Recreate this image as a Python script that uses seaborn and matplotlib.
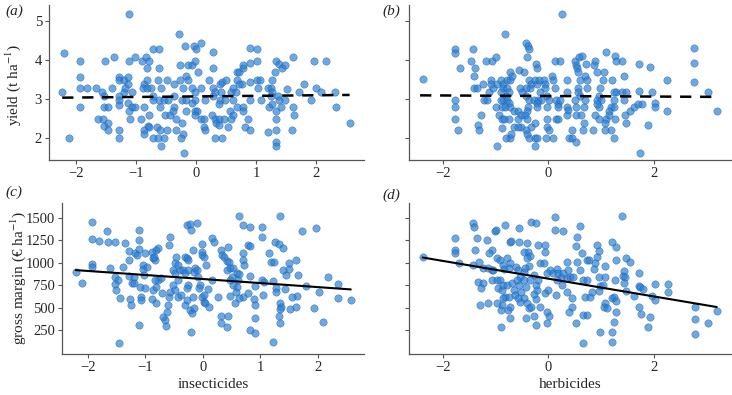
import numpy as np
import pandas as pd
import matplotlib
matplotlib.use('Agg')
import matplotlib.pyplot as plt
import seaborn as sns

# (a) yield vs insecticides
ins_a = [-1.12, -2.20, -1.94, -1.94, -1.94, -2.23, -1.82, -1.67, -1.94, -2.12,
         -1.52, -1.37, -1.56, -1.54, -1.40, -1.54, -1.47, -1.63, -1.55, -1.54,
         -1.47, -1.47, -1.28, -1.28, -1.28, -1.28, -1.29, -1.29, -1.28, -1.20,
         -1.13, -1.14, -1.20, -1.18, -1.12, -1.01, -1.07, -1.13, -1.06, -1.01,
         -1.12, -1.10, -0.91, -0.90, -0.84, -0.78, -0.81, -0.86, -0.82, -0.88,
         -0.81, -0.75, -0.72, -0.71, -0.86, -0.78, -0.72, -0.61, -0.61, -0.64,
         -0.59, -0.61, -0.54, -0.46, -0.60, -0.52, -0.43, -0.80, -0.86, -0.86,
         -0.78, -0.72, -0.65, -0.60, -0.64, -0.53, -0.59, -0.49, -0.36, -0.37,
         -0.36, -0.39, -0.34, -0.49, -0.33, -0.24, -0.21, -0.25, -0.20, -0.28,
         -0.18, -0.03, 0.08, 0.00, -0.26, -0.14, -0.07, -0.02, 0.03, -0.16,
         -0.13, -0.26, -0.21, -0.07, -0.02, 0.08, -0.23, -0.16, -0.02, 0.15,
         -0.07, -0.16, -0.02, 0.02, -0.02, 0.08, 0.13, 0.14, 0.15, 0.29,
         0.28, 0.22, 0.26, 0.29, 0.29, 0.31, 0.32, 0.39, 0.47, 0.33,
         0.39, 0.31, 0.43, 0.40, 0.43, 0.50, 0.41, 0.40, 0.39, 0.48,
         0.54, 0.57, 0.61, 0.59, 0.61, 0.59, 0.67, 0.62, 0.68, 0.72,
         0.69, 0.78, 0.79, 0.77, 0.72, 0.68, 0.79, 0.79, 0.90, 1.02,
         0.90, 1.02, 0.90, 0.87, 0.81, 0.90, 0.90, 1.02, 1.07, 1.04,
         1.08, 1.20, 1.25, 1.26, 1.27, 1.21, 1.26, 1.25, 1.20, 1.33,
         1.33, 1.34, 1.34, 1.33, 1.32, 1.34, 1.39, 1.44, 1.49, 1.36,
         1.38, 1.41, 1.49, 1.52, 1.61, 1.62, 1.64, 1.60, 1.71, 1.80,
         1.92, 1.97, 2.00, 2.08, 2.16, 2.32, 2.33, 2.56]
yield_a = [5.18, 4.19, 3.99, 3.58, 3.29, 3.19, 3.29, 3.29, 2.79, 2.00,
           3.99, 4.08, 3.19, 3.09, 3.29, 2.79, 2.79, 2.50, 2.50, 2.31,
           2.39, 2.21, 2.21, 2.00, 3.58, 3.49, 3.09, 2.99, 2.84, 3.49,
           3.58, 3.40, 3.19, 3.29, 3.99, 4.08, 3.19, 2.90, 2.80, 2.79,
           2.71, 2.50, 2.50, 3.99, 4.08, 3.99, 3.79, 3.40, 3.49, 3.29,
           3.29, 3.29, 2.99, 3.09, 2.79, 2.60, 4.28, 4.28, 3.79, 3.49,
           3.29, 2.99, 2.99, 2.99, 2.79, 2.60, 2.60, 2.31, 2.21, 2.10,
           2.29, 2.00, 2.29, 2.21, 2.00, 2.00, 1.80, 3.49, 3.40, 3.09,
           2.79, 2.71, 2.50, 2.21, 2.21, 2.39, 2.12, 2.00, 1.61, 4.68,
           4.38, 4.38, 4.44, 4.28, 3.89, 3.89, 3.89, 3.99, 3.69, 3.59,
           3.49, 3.49, 3.29, 3.29, 3.19, 3.29, 2.99, 2.99, 2.99, 2.99,
           2.90, 2.70, 2.70, 2.70, 2.60, 2.50, 2.50, 2.29, 2.21, 4.21,
           3.80, 3.49, 2.59, 3.09, 3.29, 3.19, 2.50, 2.50, 2.50, 2.38,
           2.33, 2.00, 2.00, 3.38, 3.44, 3.49, 3.19, 2.99, 2.89, 2.99,
           2.29, 2.70, 2.60, 2.50, 3.29, 3.19, 3.19, 2.99, 3.69, 3.69,
           3.49, 3.79, 3.89, 3.40, 3.38, 2.80, 2.80, 2.70, 4.32, 4.28,
           3.93, 3.99, 3.44, 2.50, 2.29, 2.21, 2.99, 3.49, 3.49, 3.29,
           2.99, 3.29, 3.29, 3.49, 3.19, 2.80, 2.89, 3.08, 2.16, 1.91,
           1.80, 2.22, 2.50, 2.70, 3.69, 3.99, 3.91, 3.79, 3.89, 3.09,
           2.99, 2.80, 2.99, 3.26, 4.08, 2.80, 2.59, 2.21, 3.19, 3.38,
           2.99, 3.99, 3.30, 3.19, 3.99, 3.19, 2.80, 2.40]

# (b) yield vs herbicides
herb_b = [-2.37, 0.26, -0.83, -1.77, -1.77, -1.43, -1.67, -1.46, -1.39, -1.40,
          -1.18, -1.07, -1.00, -1.77, -1.77, -1.77, -1.72, -1.40, -1.36, -1.24,
          -1.21, -1.17, -1.13, -1.09, -1.04, -1.09, -0.98, -0.90, -0.86, -0.79,
          -0.73, -0.69, -0.73, -0.85, -0.78, -0.90, -0.80, -0.74, -0.85, -0.78,
          -0.74, -0.90, -0.99, -0.88, -0.82, -0.73, -0.93, -0.88, -0.74, -0.84,
          -1.28, -1.34, -1.31, -0.98, -0.88, -0.73, -0.80, -0.71, -0.65, -0.58,
          -0.52, -0.58, -0.52, -0.65, -0.57, -0.55, -0.46, -0.42, -0.38, -0.36,
          -0.40, -0.36, -0.32, -0.25, -0.22, -0.23, -0.22, -0.35, -0.42, -0.54,
          -0.49, -0.42, -0.36, -0.27, -0.19, -0.13, -0.22, -0.38, -0.41, -0.45,
          -0.40, -0.21, -0.25, -0.32, -0.42, -0.36, -0.26, -0.21, -0.25, -0.41,
          -0.17, -0.09, -0.06, -0.15, -0.06, -0.02, 0.02, -0.03, -0.03, -0.02,
          0.02, -0.04, 0.09, 0.07, 0.08, 0.13, 0.23, 0.13, 0.14, 0.19,
          0.22, 0.18, 0.15, 0.19, 0.35, 0.36, 0.35, 0.38, 0.36, 0.40,
          0.44, 0.44, 0.52, 0.51, 0.52, 0.58, 0.63, 0.54, 0.57, 0.59,
          0.57, 0.56, 0.59, 0.50, 0.52, 0.52, 0.61, 0.68, 0.69, 0.68,
          0.65, 0.70, 0.71, 0.73, 0.74, 0.88, 0.86, 1.10, 1.26, 1.28,
          1.39, 0.93, 1.06, 1.04, 1.20, 1.44, 0.98, 1.28, 1.40, 1.47,
          1.25, 0.95, 0.92, 1.00, 1.25, 1.44, 0.95, 0.92, 1.19, 1.14,
          1.25, 0.88, 0.96, 1.10, 1.14, 1.07, 1.26, 0.85, 1.07, 1.19,
          1.25, 1.55, 1.63, 1.70, 1.77, 1.72, 1.96, 2.02, 2.02, 1.88,
          1.45, 1.47, 1.93, 1.72, 2.25, 2.25, 1.74, 2.75, 2.76, 2.76,
          3.03, 3.19]
yield_b = [3.51, 5.18, 4.68, 4.30, 4.19, 4.28, 3.79, 3.99, 3.79, 3.59,
           3.99, 3.99, 4.08, 2.99, 2.79, 2.50, 2.21, 3.29, 3.29, 3.40,
           2.99, 2.99, 3.19, 3.49, 3.29, 3.40, 3.40, 3.49, 3.40, 3.49,
           3.49, 3.59, 3.69, 3.29, 3.29, 3.19, 3.09, 3.19, 2.99, 2.99,
           2.90, 2.99, 2.79, 2.79, 2.79, 2.79, 2.59, 2.50, 2.50, 2.50,
           2.59, 2.34, 2.21, 1.80, 2.25, 2.00, 2.00, 2.12, 2.69, 2.70,
           2.59, 2.50, 2.29, 2.29, 2.29, 3.74, 3.69, 4.44, 4.38, 4.30,
           4.08, 3.49, 3.40, 3.49, 3.40, 3.91, 3.79, 3.29, 3.29, 3.29,
           3.19, 3.09, 2.99, 2.99, 2.99, 2.99, 2.90, 2.79, 2.70, 2.60,
           2.50, 2.79, 2.39, 2.29, 2.21, 2.00, 2.00, 2.00, 1.80, 2.12,
           3.49, 3.49, 3.40, 3.19, 3.29, 3.09, 2.99, 2.79, 2.50, 2.29,
           2.21, 2.00, 2.00, 3.59, 3.49, 3.99, 3.99, 3.29, 2.99, 2.89,
           2.99, 2.79, 2.50, 2.50, 3.49, 3.19, 2.79, 2.72, 2.59, 2.00,
           2.00, 2.21, 1.91, 3.99, 3.89, 4.09, 4.11, 3.79, 3.69, 3.49,
           3.29, 3.19, 3.09, 2.99, 2.79, 2.59, 2.59, 2.79, 2.99, 2.39,
           2.21, 3.59, 3.90, 3.49, 3.29, 3.99, 3.89, 4.21, 4.10, 3.99,
           3.99, 3.69, 3.69, 3.49, 3.49, 3.59, 3.29, 3.19, 3.19, 3.19,
           3.19, 3.09, 2.99, 2.99, 2.99, 2.99, 2.79, 2.89, 2.79, 2.70,
           2.79, 2.60, 2.50, 2.50, 2.60, 2.39, 2.50, 2.21, 2.21, 2.21,
           2.00, 2.70, 2.80, 2.89, 2.89, 3.20, 3.19, 2.91, 2.79, 2.35,
           2.60, 2.39, 3.83, 3.90, 3.49, 2.70, 1.61, 4.32, 3.93, 3.45,
           3.19, 2.70]

# (c) gross margin vs insecticides
ins_c = [-1.92, -1.92, -1.81, -1.66, -1.65, -1.52, -1.36, -1.11, -1.11, -1.28,
         -1.18, -1.11, -1.15, -1.01, -1.28, -1.39, -1.61, -1.92, -1.92, -2.21,
         -2.10, -1.53, -1.47, -1.52, -1.51, -1.44, -1.28, -1.19, -1.24, -1.19,
         -1.27, -1.25, -1.10, -1.01, -1.08, -1.07, -1.11, -1.46, -1.04, -1.04,
         -0.98, -1.02, -0.89, -0.86, -0.83, -0.81, -0.85, -0.78, -0.89, -0.81,
         -0.86, -0.81, -0.78, -0.73, -0.83, -0.71, -0.69, -0.66, -0.63, -0.64,
         -0.60, -0.59, -0.57, -0.57, -0.59, -0.52, -0.49, -0.49, -0.52, -0.46,
         -0.43, -0.40, -0.43, -0.49, -0.43, -0.38, -0.32, -0.28, -0.26, -0.34,
         -0.31, -0.26, -0.31, -0.27, -0.26, -0.28, -0.23, -0.19, -0.17, -0.20,
         -0.15, -0.28, -0.23, -0.11, -0.20, -0.17, -0.14, -0.15, -0.11, -0.08,
         -0.05, -0.07, -0.02, -0.01, -0.01, 0.02, 0.05, -0.02, 0.02, 0.01,
         0.03, 0.10, 0.15, 0.15, 0.20, 0.09, 0.63, 0.70, 0.82, 1.03,
         1.34, 1.02, 1.25, 1.32, 1.39, 1.14, 1.18, 1.23, 0.79, 0.82,
         0.70, 0.69, 0.72, 0.31, 0.34, 0.37, 0.41, 0.43, 0.46, 0.41,
         0.47, 0.52, 0.51, 0.47, 0.59, 0.63, 0.61, 0.53, 0.59, 0.57,
         0.81, 0.90, 0.79, 0.88, 0.90, 0.70, 0.63, 0.56, 0.47, 1.03,
         1.06, 1.21, 1.27, 1.27, 1.43, 1.05, 0.90, 0.81, 0.90, 1.21,
         1.34, 1.35, 1.34, 1.33, 1.34, 1.51, 1.61, 1.63, 1.80, 1.93,
         1.39, 1.44, 1.49, 1.50, 1.62, 1.65, 1.54, 1.72, 1.97, 2.17,
         2.34, 2.34, 2.57, 2.01, 2.09, 0.31, 0.32, 0.41, 0.44, 0.27]
margin_c = [1457, 1264, 1245, 1357, 1234, 1234, 1223, 1364, 1253, 1134,
            1111, 1152, 1085, 1111, 1030, 955, 937, 981, 955, 892,
            770, 844, 807, 762, 695, 603, 851, 844, 770, 770,
            591, 528, 725, 714, 621, 584, 305, 101, 974, 926,
            955, 863, 1115, 1048, 1030, 1141, 1067, 1167, 591, 547,
            695, 733, 807, 825, 807, 658, 398, 361, 454, 298,
            528, 621, 677, 1290, 1197, 918, 993, 881, 751, 1067,
            974, 918, 807, 695, 621, 640, 1067, 1048, 1030, 918,
            881, 918, 528, 584, 751, 714, 473, 435, 621, 231,
            491, 1420, 1427, 1446, 1364, 1141, 937, 900, 918, 844,
            751, 714, 1123, 1085, 1204, 1059, 974, 621, 640, 565,
            547, 510, 1271, 807, 1234, 707, 1520, 1420, 1394, 1401,
            1524, 1290, 1234, 1208, 1160, 1111, 1011, 1011, 1193, 1189,
            1104, 1030, 974, 1141, 1085, 1059, 1022, 1171, 1011, 918,
            937, 937, 844, 807, 881, 874, 807, 751, 733, 677,
            851, 740, 666, 591, 528, 621, 603, 547, 629, 807,
            788, 796, 714, 677, 703, 640, 380, 250, 213, 120,
            554, 510, 480, 409, 324, 480, 510, 629, 740, 491,
            918, 863, 926, 993, 1030, 859, 621, 1357, 1383, 837,
            762, 603, 584, 677, 335, 409, 331, 287, 409, 621]

# (d) gross margin vs herbicides
herb_d = [-2.37, -1.42, -1.40, -1.77, -1.77, -1.77, -1.70, -1.36, -1.16, -1.07,
          -1.12, -1.39, -1.02, -0.99, -0.82, -0.55, -0.33, -0.23, 0.13, 0.13,
          0.27, 0.59, 0.54, -0.73, -0.71, -0.55, -0.41, -0.38, -0.35, -0.46,
          -0.41, -0.36, -0.19, -0.06, -0.06, -0.15, -0.09, -1.42, -1.31, -1.23,
          -1.14, -1.07, -1.04, -0.98, -0.92, -0.85, -0.84, -0.78, -0.73, -0.74,
          -1.33, -1.24, -1.28, -1.07, -0.98, -0.92, -0.95, -0.88, -0.85, -0.79,
          -0.82, -0.86, -0.74, -0.69, -0.66, -0.63, -0.61, -0.57, -0.54, -0.59,
          -0.55, -0.47, -0.44, -0.47, -0.51, -0.42, -0.46, -0.54, -0.41, -0.36,
          -0.32, -0.23, -0.28, -0.22, -0.23, -0.19, -0.28, -0.35, -0.73, -0.77,
          -0.88, -0.90, -0.98, -1.29, -1.14, -0.89, -0.73, -0.57, -0.42, -0.27,
          -0.23, -0.03, 0.02, -0.02, -0.16, -0.06, 0.00, 0.03, -0.03, 0.08,
          0.16, 0.19, 0.24, 0.25, 0.15, 0.16, 0.28, 0.35, 0.38, 0.36,
          0.36, 0.41, 0.47, 0.44, 0.44, 0.40, 0.52, 0.54, 0.52, 0.63,
          0.59, 0.66, 0.69, 0.73, 0.74, 0.66, 0.73, 0.66, 1.39, 0.93,
          0.96, 0.92, 0.88, 0.87, 1.20, 1.28, 1.28, 1.47, 1.55, 1.43,
          1.42, 1.45, 1.07, 0.95, 1.07, 0.97, 1.04, 0.95, 1.26, 1.44,
          1.48, 1.62, 1.72, 1.74, 1.80, 1.72, 2.02, 2.26, 2.26, 1.96,
          2.02, 1.72, 1.75, 1.93, 1.89, 1.20, 1.25, 1.28, 1.07, 1.06,
          1.11, 1.29, 1.25, 1.21, 1.20, 0.98, 0.79, 0.82, 2.77, 2.77,
          2.77, 3.03, 3.19, 0.77]
margin_d = [1063, 1446, 1401, 1271, 1141, 1104, 993, 1271, 1253, 1141,
            1104, 1141, 1357, 1364, 1420, 1383, 1450, 1438, 1513, 1364,
            1357, 1409, 1290, 1234, 1245, 1234, 1215, 1123, 1074, 1123,
            1048, 963, 1197, 1197, 1123, 1000, 993, 974, 1011, 937,
            937, 918, 918, 1048, 1030, 974, 926, 1048, 993, 937,
            788, 770, 714, 807, 807, 807, 714, 695, 751, 751,
            621, 603, 621, 770, 695, 640, 955, 918, 844, 807,
            751, 900, 937, 807, 677, 733, 603, 565, 547, 491,
            510, 591, 651, 695, 751, 807, 863, 807, 510, 473,
            528, 473, 547, 528, 547, 287, 380, 603, 380, 406,
            305, 454, 409, 324, 510, 658, 695, 918, 881, 881,
            926, 881, 844, 751, 640, 807, 881, 1011, 918, 825,
            677, 844, 844, 603, 510, 454, 324, 1011, 1186, 1104,
            918, 807, 621, 1030, 807, 417, 417, 101, 1520, 1197,
            1134, 1059, 993, 926, 1227, 1171, 1030, 1048, 1011, 911,
            851, 837, 967, 844, 837, 740, 751, 688, 807, 770,
            688, 629, 744, 725, 703, 881, 762, 762, 669, 629,
            584, 502, 428, 398, 287, 603, 621, 577, 554, 510,
            499, 454, 343, 231, 120, 231, 621, 677, 510, 376,
            205, 328, 458, 1030]

# fitted lines: intercept, slope, x-range
fit_a = (3.073, 0.0146, -2.23, 2.56)
fit_b = (3.083, -0.007, -2.43, 3.19)
fit_c = (818, -45, -2.21, 2.57)
fit_d = (822, -99, -2.38, 3.19)

sns.set_style('ticks')
plt.rcParams['font.family'] = ['Liberation Serif', 'DejaVu Serif']
plt.rcParams['mathtext.fontset'] = 'stix'

dot = '#2a7fd6'
W, H = 732, 395
fig = plt.figure(figsize=(W / 100, H / 100), dpi=100)


def box(left, top, right, bottom):
    return [left / W, 1 - bottom / H, (right - left) / W, (bottom - top) / H]


ax_a = fig.add_axes(box(49, 5, 364, 160))
ax_b = fig.add_axes(box(409, 5, 731, 160))
ax_c = fig.add_axes(box(62, 203, 364, 354))
ax_d = fig.add_axes(box(409, 203, 731, 354))


def panel(ax, x, y, fit, dashed):
    df = pd.DataFrame({'x': x, 'y': y})
    sns.scatterplot(data=df, x='x', y='y', ax=ax, s=28, color=dot, alpha=0.68,
                    edgecolor='#1a5aa0', linewidth=0.4, zorder=2)
    xs = np.array([fit[2], fit[3]])
    if dashed:
        ax.plot(xs, fit[0] + fit[1] * xs, color='black', lw=1.8,
                dashes=(4.5, 3.5), zorder=3)
    else:
        ax.plot(xs, fit[0] + fit[1] * xs, color='black', lw=1.5, zorder=3)
    ax.set_xlabel('')
    ax.set_ylabel('')
    sns.despine(ax=ax)
    for s in ['left', 'bottom']:
        ax.spines[s].set_color('#555555')
        ax.spines[s].set_linewidth(0.9)
    ax.tick_params(direction='out', length=3, width=0.8, color='#555555',
                   labelsize=10.5, pad=2)


panel(ax_a, ins_a, yield_a, fit_a, True)
panel(ax_b, herb_b, yield_b, fit_b, True)
panel(ax_c, ins_c, margin_c, fit_c, False)
panel(ax_d, herb_d, margin_d, fit_d, False)

for ax in [ax_a, ax_c]:
    ax.set_xlim(-2.45, 2.8)
    ax.set_xticks([-2, -1, 0, 1, 2])
for ax in [ax_b, ax_d]:
    ax.set_xlim(-2.64, 3.46)
    ax.set_xticks([-2, 0, 2])
for ax in [ax_a, ax_b]:
    ax.set_ylim(1.44, 5.42)
    ax.set_yticks([2, 3, 4, 5])
for ax in [ax_c, ax_d]:
    ax.set_ylim(-17, 1665)
    ax.set_yticks([250, 500, 750, 1000, 1250, 1500])
ax_b.set_yticklabels([])
ax_d.set_yticklabels([])

lab = dict(fontsize=11, ha='center', va='center')
fig.text(14 / W, 1 - 11 / H, '(a)', style='italic', **lab)
fig.text(391 / W, 1 - 11 / H, '(b)', style='italic', **lab)
fig.text(14 / W, 1 - 192 / H, '(c)', style='italic', **lab)
fig.text(391 / W, 1 - 195 / H, '(d)', style='italic', **lab)
fig.text(13 / W, 1 - 85 / H, 'yield (t ha$^{-1}$)', rotation=90, **lab)
fig.text(18 / W, 1 - 278 / H, 'gross margin (€ ha$^{-1}$)', rotation=90, **lab)
fig.text(213 / W, 1 - 385 / H, 'insecticides', **lab)
fig.text(570 / W, 1 - 385 / H, 'herbicides', **lab)

fig.savefig('out.png', dpi=100)
